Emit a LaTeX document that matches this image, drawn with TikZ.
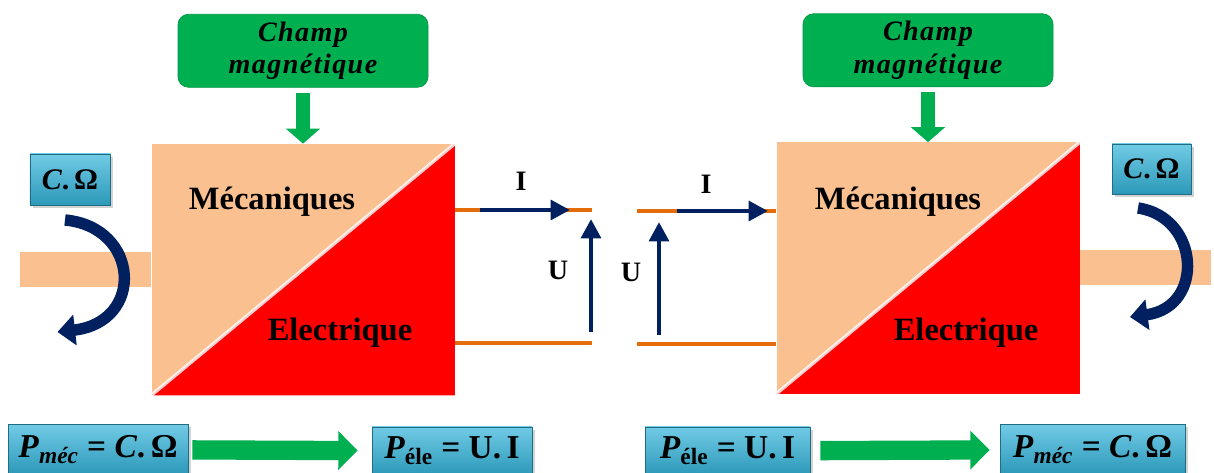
\documentclass[tikz,border=0pt]{standalone}
\usepackage{fontspec}
\setmainfont{Liberation Serif}
\usetikzlibrary{arrows.meta, positioning, calc, shadows}
\definecolor{peach}{RGB}{250, 192, 144}
\definecolor{convred}{RGB}{255, 0, 0}
\definecolor{fieldgreen}{RGB}{0, 176, 80}
\definecolor{tagcyan}{RGB}{52, 180, 218}
\definecolor{arrownavy}{RGB}{0, 32, 96}
\definecolor{wireorange}{RGB}{228, 108, 10}

\begin{document}
\begin{tikzpicture}[
    conv/.style={rectangle, fill=peach, minimum width=6.06cm, minimum height=5.02cm,
                 inner sep=0pt},
    champ/.style={rectangle, rounded corners=6pt, fill=fieldgreen, draw=fieldgreen!85!black,
                  minimum width=5cm, minimum height=1.46cm, align=center,
                  font=\fontsize{16}{18.7}\selectfont\bfseries\itshape\addfontfeature{LetterSpace=5}},
    shaft/.style={rectangle, fill=peach, minimum height=0.7cm, inner sep=0pt},
    tag/.style={rectangle, top color=tagcyan!70!white, bottom color=tagcyan!85!black,
                draw=tagcyan!60!black, inner sep=0pt,
                drop shadow={opacity=0.35, shadow xshift=1.5pt, shadow yshift=-1.5pt}},
    part/.style={font=\fontsize{18.5}{22}\selectfont\bfseries},
    lbl/.style={font=\fontsize{16}{19}\selectfont\bfseries},
    field/.style={draw=fieldgreen, line width=8.5pt, -{Triangle[length=8.5pt, width=19pt]},
                  shorten <=0.1cm},
    flow/.style={draw=fieldgreen, line width=11pt, -{Triangle[length=11pt, width=21.5pt]}},
    wire/.style={draw=wireorange, line width=2.8pt},
    arr/.style={draw=arrownavy, line width=2.8pt, -{Triangle[length=11pt, width=11pt]}},
    rot/.style={draw=arrownavy, line width=6.5pt, -{Triangle[length=10pt, width=17pt]}},
]
\useasboundingbox (0,0) rectangle (24.28,9.44);

% left converter (mechanical -> electrical)
\node[conv] (convL) at (6.06,4.05) {};
\fill[convred] (convL.south west) -- (convL.south east) -- (convL.north east) -- cycle;
\draw[white, opacity=0.8, line width=2pt] (convL.south west) -- (convL.north east);
\node[part] (mecL) at (5.44,5.4) {Mécaniques};
\node[part] (eleL) at (6.8,2.78) {Electrique};
\node[champ, above=1.12cm of convL] (champL) {Champ\\magnétique};
\draw[field] (champL) -- (convL);
\node[shaft, minimum width=2.62cm, left=0pt of convL] (shaftL) {};
\node[tag, minimum width=1.6cm, minimum height=1.02cm,
      font=\fontsize{17}{20}\selectfont\bfseries] (torqueL) at (1.4,5.85) {\textit{C}.\,Ω};
\coordinate (rotLa) at (1.3,5.04);
\coordinate (rotLb) at (1.15,2.8);
\draw[rot] (rotLa) .. controls (2.8,4.9) and (2.9,3.0) .. (rotLb);

\coordinate (wLt) at (11.84,5.24);
\coordinate (wLb) at (11.84,2.58);
\draw[wire] (convL.east |- wLt) -- (wLt);
\draw[wire] (convL.east |- wLb) -- (wLb);
\coordinate (iLa) at (9.6,5.24);
\coordinate (iLb) at (11.4,5.24);
\draw[arr] (iLa) -- (iLb);
\node[lbl] (curL) at (10.42,5.82) {I};
\coordinate (uLa) at (11.82,2.8);
\coordinate (uLb) at (11.82,5.06);
\draw[arr] (uLa) -- (uLb);
\node[lbl] (volL) at (11.16,4.04) {U};

% right converter (electrical -> mechanical)
\node[conv] (convR) at (18.56,4.08) {};
\fill[convred] (convR.south west) -- (convR.south east) -- (convR.north east) -- cycle;
\draw[white, opacity=0.8, line width=2pt] (convR.south west) -- (convR.north east);
\node[part] (mecR) at (17.96,5.4) {Mécaniques};
\node[part] (eleR) at (19.32,2.78) {Electrique};
\node[champ, above=1.1cm of convR] (champR) {Champ\\magnétique};
\draw[field] (champR) -- (convR);
\node[shaft, minimum width=2.62cm, right=0pt of convR] (shaftR) {};
\node[tag, minimum width=1.58cm, minimum height=1.0cm,
      font=\fontsize{17}{20}\selectfont\bfseries] (torqueR) at (23.03,6.06) {\textit{C}.\,Ω};
\coordinate (rotRa) at (22.76,5.28);
\coordinate (rotRb) at (22.6,3.1);
\draw[rot] (rotRa) .. controls (24.0,5.1) and (24.1,3.3) .. (rotRb);

\coordinate (wRt) at (12.74,5.22);
\coordinate (wRb) at (12.74,2.56);
\draw[wire] (wRt) -- (convR.west |- wRt);
\draw[wire] (wRb) -- (convR.west |- wRb);
\coordinate (iRa) at (13.54,5.22);
\coordinate (iRb) at (15.36,5.22);
\draw[arr] (iRa) -- (iRb);
\node[lbl] (curR) at (14.12,5.76) {I};
\coordinate (uRa) at (13.18,2.74);
\coordinate (uRb) at (13.18,5.0);
\draw[arr] (uRa) -- (uRb);
\node[lbl] (volR) at (12.62,4.0) {U};

% power balance
\node[tag, minimum width=3.6cm, minimum height=1.0cm,
      font=\fontsize{19}{22}\selectfont\bfseries] (pmecL) at (1.96,0.45)
      {\textit{P}\textsubscript{\textit{méc}}~=~\textit{C}.\,Ω};
\node[tag, minimum width=3.2cm, minimum height=0.96cm,
      font=\fontsize{19}{22}\selectfont\bfseries] (peleL) at (9.04,0.42)
      {\textit{P}\textsubscript{éle}~=~U.\,I};
\draw[flow, shorten <=0.08cm, shorten >=0.28cm] (pmecL) -- (peleL);

\node[tag, minimum width=3.3cm, minimum height=0.96cm,
      font=\fontsize{19}{22}\selectfont\bfseries] (peleR) at (14.55,0.42)
      {\textit{P}\textsubscript{éle}~=~U.\,I};
\node[tag, minimum width=3.7cm, minimum height=1.0cm,
      font=\fontsize{19}{22}\selectfont\bfseries] (pmecR) at (21.85,0.45)
      {\textit{P}\textsubscript{\textit{méc}}~=~\textit{C}.\,Ω};
\draw[flow, shorten <=0.2cm, shorten >=0.2cm] (peleR) -- (pmecR);

\end{tikzpicture}
\end{document}
